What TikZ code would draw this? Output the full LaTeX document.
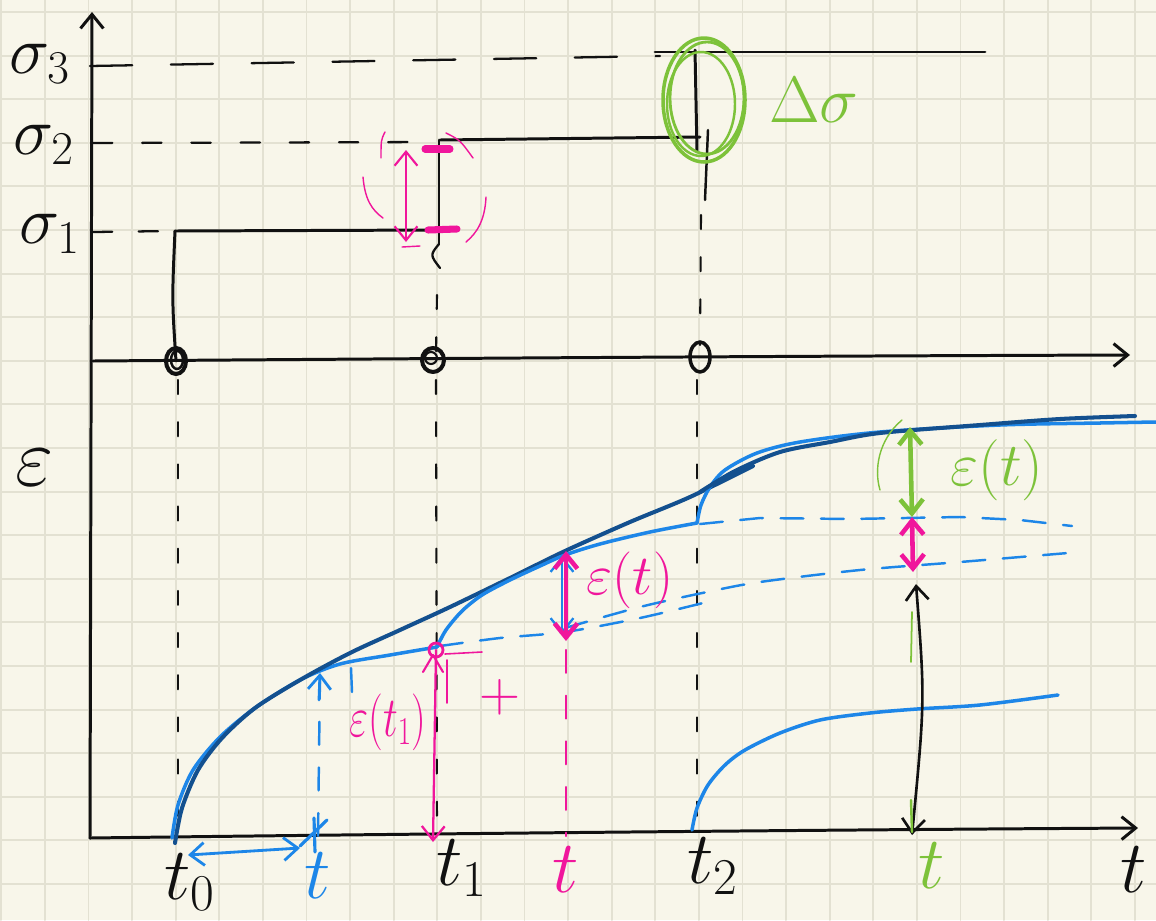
\documentclass[tikz,border=0pt]{standalone}
\usepackage{fontspec}
\usetikzlibrary{arrows.meta,calc}
\definecolor{paper}{HTML}{F8F6EA}
\definecolor{gridc}{HTML}{E3E1D2}
\definecolor{ink}{HTML}{111111}
\definecolor{navy}{HTML}{13508F}
\definecolor{sky}{HTML}{1D86E8}
\definecolor{pinkc}{HTML}{F0169C}
\definecolor{leaf}{HTML}{7DC23A}
\tikzset{
  blk/.style={draw=ink, line width=1.7pt},
  dsh/.style={draw=ink, line width=1.2pt, dash pattern=on 8pt off 16pt},
  navyline/.style={draw=navy, line width=2.3pt},
  skyline/.style={draw=sky, line width=2pt},
  skydash/.style={draw=sky, line width=1.4pt, dash pattern=on 13pt off 10pt},
  barb/.style={-{Straight Barb[length=8pt,width=13pt]}},
  barbs/.style={{Straight Barb[length=8pt,width=13pt]}-{Straight Barb[length=8pt,width=13pt]}},
  lab/.style={inner sep=0pt, font=\fontsize{24}{24}\selectfont},
}
\begin{document}
\begin{tikzpicture}[x=0.02cm,y=-0.02cm,line cap=round,line join=round]
\fill[paper] (0,0) rectangle (1156,920);
\useasboundingbox (0,0) rectangle (1156,920);
% grid
\foreach \i in {0,...,26} \draw[gridc, line width=1.1pt] ({1.3+43.6*\i},0) -- ({1.3+43.6*\i},920);
\foreach \j in {0,...,20} \draw[gridc, line width=1.1pt] (0,{12+43.6*\j}) -- (1156,{12+43.6*\j});

% key coordinates
\coordinate (O) at (90,838);
\coordinate (Ytop) at (92,12);
\coordinate (Bend) at (1138,828);
\coordinate (Uo) at (93,361);
\coordinate (Uend) at (1130,355);

% axes
\draw[blk, barb] (O) -- (Ytop);
\draw[blk, barb] (O) .. controls (400,834) and (800,830) .. (Bend);
\draw[blk, barb] (Uo) .. controls (500,358) and (800,356) .. (Uend);

% sigma levels
\draw[ink, line width=1.3pt, dash pattern=on 24pt off 22pt] (90,66) -- (660,56);
\draw[blk] (655,52) -- (985,52);
\draw[ink, line width=1.3pt, dash pattern=on 11pt off 17pt] (93,143) -- (437,142);
\draw[blk] (440,140) -- (700,137);
\draw[ink, line width=1.3pt, dash pattern=on 11pt off 15pt] (93,232) -- (172,231);
\draw[blk] (175,231) -- (440,230);

% steps
\coordinate (A0) at (176,361);
\coordinate (A1) at (433,360);
\coordinate (A2) at (700,357);
\draw[blk] (175,231) .. controls (172,300) .. (A0);
\draw[blk] (439,140) -- (439,244);
\draw[ink, line width=1.3pt] (439,244) .. controls (430,255) .. (440,268);
\draw[blk] (695,50) -- (697,152);
\draw[ink, line width=1.4pt] (708,130) -- (705,200);

% dashed verticals
\draw[dsh] (178,380) -- (178,830);
\draw[dsh] (437,295) -- (436,355);
\draw[dsh] (436,380) -- (437,838);
\draw[dsh] (701,215) -- (700,345);
\draw[dsh] (697,380) -- (697,830);

% circles on axis
\draw[ink, line width=2.3pt] (A0) ellipse [x radius=10, y radius=13];
\draw[ink, line width=1.4pt] (177,360) ellipse [x radius=6, y radius=9];
\draw[ink, line width=2.3pt] (A1) ellipse [x radius=11, y radius=12];
\draw[ink, line width=1.2pt] (431,358) ellipse [x radius=6, y radius=6];
\draw[ink, line width=2pt] (A2) ellipse [x radius=10, y radius=15];

% pink delta sigma marks
\draw[pinkc, line width=1.2pt, barbs] (406,150) -- (406,242);
\draw[pinkc, line width=4pt] (425,149) -- (450,149);
\draw[pinkc, line width=4pt] (428,230) -- (457,229);
\draw[pinkc, line width=0.8pt] (385,132) .. controls (381,140) .. (381,158);
\draw[pinkc, line width=0.8pt] (363,177) .. controls (365,200) and (372,210) .. (383,218);
\draw[pinkc, line width=0.8pt] (446,133) .. controls (460,140) .. (473,158);
\draw[pinkc, line width=0.8pt] (486,197) .. controls (485,220) and (477,233) .. (466,242);
\draw[pinkc, line width=0.8pt] (402,247) -- (420,246);

% green circle
\draw[leaf, line width=2pt] (704,100) ellipse [x radius=41, y radius=62];
\draw[leaf, line width=1.6pt] (707,98) ellipse [x radius=37, y radius=56];
\draw[leaf, line width=1.4pt] (701,104) ellipse [x radius=34, y radius=52];

% curves
\draw[skyline] plot[smooth] coordinates {(172,838) (178,805) (193,770) (220,737) (255,708) (300,680) (340,664) (390,655) (437,647)};
\draw[navyline] plot[smooth] coordinates {(175,843) (182,808) (198,770) (222,738) (255,708) (300,680) (350,653) (400,630) (450,607) (510,578) (565,551) (630,522) (690,497) (753,466)};
\draw[skyline] plot[smooth] coordinates {(437,647) (446,630) (462,611) (482,595) (510,580) (540,566) (565,555) (600,544) (650,532) (697,523)};
\draw[skyline] plot[smooth] coordinates {(697,523) (701,505) (710,487) (725,470) (757,453) (800,442) (880,432) (1000,425) (1100,423) (1156,422)};
\draw[navyline] plot[smooth] coordinates {(700,492) (735,471) (780,452) (830,442) (880,433) (980,425) (1060,419) (1135,416)};
\draw[skyline] plot[smooth] coordinates {(692,830) (697,808) (708,785) (725,765) (745,750) (780,733) (820,720) (870,713) (917,709) (980,705) (1058,695)};

% dashed creep continuations
\draw[skydash] plot[smooth] coordinates {(440,646) (500,638) (565,632) (640,618) (707,602)};
\draw[skydash] plot[smooth] coordinates {(565,628) (640,607) (707,592) (760,582) (860,570) (960,562) (1068,553)};
\draw[skydash] (700,524) -- (760,518) -- (850,519) -- (960,517) -- (1020,520) -- (1072,526);

% blue construction at t
\coordinate (Bt) at (318,836);
\coordinate (Btop) at (320,673);
\draw[sky, line width=1.4pt, dash pattern=on 13pt off 13pt] (Bt) -- (Btop);
\draw[sky, line width=1.6pt, barb] (319,700) -- (Btop);
\draw[sky, line width=1.8pt] (300,846) -- (327,820);
\draw[sky, line width=1.8pt] (314,818) -- (315,852);
\draw[sky, line width=1.4pt] (351,668) -- (352,692);
\draw[sky, line width=1.6pt, barbs] (188,855) -- (300,848);

% pink epsilon(t1)
\coordinate (P1) at (436,650);
\coordinate (P1b) at (433,842);
\draw[pinkc, line width=1.3pt, barb] (P1) -- (P1b);
\draw[pinkc, line width=1.6pt] (P1) circle [radius=7];
\draw[pinkc, line width=0.9pt] (445,654) -- (482,652);
\draw[pinkc, line width=0.9pt] (447,660) -- (447,703);
\draw[pinkc, line width=1.2pt] (423,672) -- (433,655) -- (443,672);

% pink epsilon(t) at middle t
\coordinate (Pm1) at (566,551);
\coordinate (Pm2) at (566,641);
\draw[sky, line width=1.3pt, barbs] (562,556) -- (562,634);
\draw[pinkc, line width=2.6pt, barbs] (Pm1) -- (Pm2);
\draw[pinkc, line width=1.3pt, dash pattern=on 13pt off 13pt] (566,650) -- (566,836);

% right t construction
\coordinate (G1) at (910,427);
\coordinate (G2) at (912,517);
\coordinate (R2) at (913,572);
\coordinate (K1) at (916,584);
\coordinate (K2) at (912,835);
\draw[leaf, line width=2.6pt, barbs] (G1) -- (G2);
\draw[pinkc, line width=2.6pt, barbs] (G2) -- (R2);
\draw[ink, line width=1.5pt, barbs] (K1) .. controls (925,700) .. (K2);
\draw[leaf, line width=0.8pt] (902,420) .. controls (878,440) and (874,470) .. (880,490);
\draw[leaf, line width=1pt] (912,612) -- (911,662);
\draw[leaf, line width=1.4pt] (911,800) -- (912,832);

% labels
\node[lab, ink] (s3) at (40,64) {\scalebox{1.55}{$\sigma_3$}};
\node[lab, ink] (s2) at (44,145) {\scalebox{1.55}{$\sigma_2$}};
\node[lab, ink] (s1) at (50,234) {\scalebox{1.55}{$\sigma_1$}};
\node[lab, ink] (eps) at (35,468) {\scalebox{1.9}{$\varepsilon$}};
\node[lab, ink] (t0) at (190,882) {\scalebox{1.7}{$t_0$}};
\node[lab, sky] (tb) at (318,876) {\scalebox{1.7}{$t$}};
\node[lab, ink] (t1) at (462,868) {\scalebox{1.7}{$t_1$}};
\node[lab, pinkc] (tp) at (566,870) {\scalebox{1.7}{$t$}};
\node[lab, ink] (t2) at (713,866) {\scalebox{1.7}{$t_2$}};
\node[lab, leaf] (tg) at (932,866) {\scalebox{1.7}{$t$}};
\node[lab, ink] (tax) at (1134,870) {\scalebox{1.7}{$t$}};
\node[lab, leaf] (ds) at (814,100) {\scalebox{1.5}{$\Delta\sigma$}};
\node[lab, pinkc] (ept) at (630,580) {\scalebox{1.3}{$\varepsilon(t)$}};
\node[lab, leaf] (egt) at (997,470) {\scalebox{1.4}{$\varepsilon(t)$}};
\node[lab, pinkc] (ept1) at (388,722) {\scalebox{0.95}[1.3]{$\varepsilon(t_1)$}};
\node[lab, pinkc] (plus) at (500,697) {\scalebox{1.3}{$+$}};
\end{tikzpicture}
\end{document}
